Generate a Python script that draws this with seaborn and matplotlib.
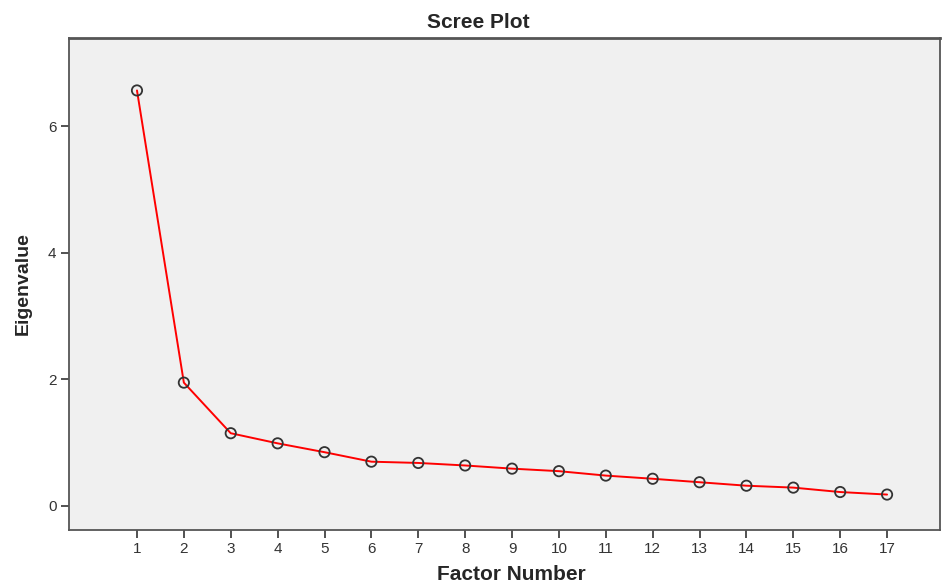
import numpy as np
import pandas as pd
import seaborn as sns
import matplotlib.pyplot as plt

factor_number = list(range(1, 18))
eigenvalue = [6.57, 1.95, 1.15, 0.99, 0.85, 0.70, 0.68, 0.64, 0.59,
              0.55, 0.48, 0.43, 0.375, 0.32, 0.29, 0.22, 0.18]
x_ticks = list(range(1, 18))
y_ticks = [0, 2, 4, 6]

df = pd.DataFrame({"Factor Number": factor_number, "Eigenvalue": eigenvalue})

sns.set_theme(style="white")
plt.rcParams['font.family'] = ['Liberation Sans', 'DejaVu Sans']

fig = plt.figure(figsize=(9.44, 5.84), dpi=100)
ax = fig.add_axes([0.0731, 0.0925, 0.9227, 0.8425])
ax.set_facecolor("#f0f0f0")

# red scree line with open circles on top
sns.lineplot(data=df, x="Factor Number", y="Eigenvalue", ax=ax,
             color="red", linewidth=1.4, zorder=2)
ax.scatter(df["Factor Number"], df["Eigenvalue"], s=55, facecolors="none",
           edgecolors="#333333", linewidths=1.3, zorder=3)

ax.set_xlim(-0.45, 18.13)
ax.set_ylim(-0.38, 7.4)
ax.set_xticks(x_ticks)
ax.set_yticks(y_ticks)
ax.tick_params(axis="both", direction="out", length=6, width=1.2,
               color="#333333", labelsize=11, labelcolor="#333333", pad=3)
ax.tick_params(bottom=True, left=True)

for side in ["left", "bottom", "top", "right"]:
    ax.spines[side].set_color("#555555")
    ax.spines[side].set_linewidth(1.3)
ax.spines["top"].set_linewidth(2)

ax.set_xlabel("Factor Number", fontsize=15, fontweight="bold")
ax.xaxis.set_label_coords(0.508, -0.072)
ax.set_ylabel("Eigenvalue", fontsize=14, fontweight="bold", labelpad=12)
ax.set_title("Scree Plot", fontsize=15, fontweight="bold", pad=7, x=0.47)

plt.savefig("out.png", dpi=100)
plt.close(fig)
